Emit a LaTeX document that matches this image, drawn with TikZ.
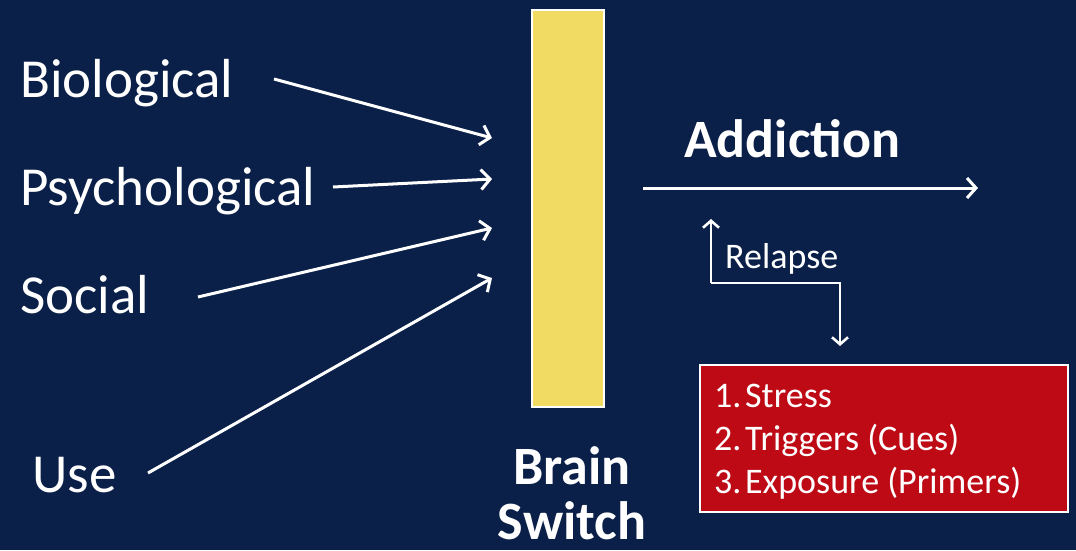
\documentclass[tikz,border=0pt]{standalone}
\usepackage{fontspec}
\setmainfont{Carlito}
\usetikzlibrary{arrows.meta}
\definecolor{bgnavy}{HTML}{0A2049}
\definecolor{switchyellow}{HTML}{F2DB62}
\definecolor{boxred}{HTML}{BD0A15}
\tikzset{
  lbl/.style={text=white, anchor=base west, inner sep=0pt, font=\fontsize{55}{60}\selectfont},
  bold/.style={text=white, anchor=base, inner sep=0pt, font=\fontsize{54}{60}\selectfont\bfseries},
  arr/.style={draw=white, line width=3pt, -{Straight Barb[length=9pt,width=20pt,line width=3pt]}},
  conn/.style={draw=white, line width=2.6pt},
}
\begin{document}
\begin{tikzpicture}[x=1pt,y=-1pt]
\fill[bgnavy] (0,0) rectangle (1076,550);
\useasboundingbox (0,0) rectangle (1076,550);
% switch bar
\node[draw=white, line width=1.8pt, fill=switchyellow, minimum width=72pt, minimum height=397pt, inner sep=0pt] (bar) at (568,208.5) {};
% inputs
\node[lbl] (bio) at (20,97) {Biological};
\node[lbl] (psy) at (20,205) {Psychological};
\node[lbl] (soc) at (20,313) {Social};
\node[lbl] (use) at (32,492) {Use};
\coordinate (bioS) at (274,79);
\coordinate (bioT) at (492,138);
\coordinate (psyS) at (333,187);
\coordinate (psyT) at (492,179);
\coordinate (socS) at (198,297);
\coordinate (socT) at (492,228);
\coordinate (useS) at (148,473);
\coordinate (useT) at (492,278);
\draw[arr] (bioS) -- (bioT);
\draw[arr] (psyS) -- (psyT);
\draw[arr] (socS) -- (socT);
\draw[arr] (useS) -- (useT);
% brain switch label
\node[bold] (brain) at (572,484) {Brain};
\node[bold] (switch) at (572,539) {Switch};
% addiction
\node[bold, anchor=base west] (add) at (684,157) {Addiction};
\coordinate (addS) at (643,188);
\coordinate (addT) at (978,188);
\draw[arr] (addS) -- (addT);
% relapse
\coordinate (relA) at (711,219);
\coordinate (relB) at (711,283);
\coordinate (relC) at (840,283);
\coordinate (relD) at (840,346);
\draw[conn, -{Straight Barb[length=7pt,width=16pt,line width=2.6pt]}] (relB) -- (relA);
\draw[conn, -{Straight Barb[length=7pt,width=16pt,line width=2.6pt]}] (relB) -- (relC) -- (relD);
\node[text=white, anchor=base west, inner sep=0pt, font=\fontsize{36}{40}\selectfont] (rel) at (725,268) {Relapse};
% red box
\node[draw=white, line width=1.8pt, fill=boxred, minimum width=368pt, minimum height=147pt, inner sep=0pt] (box) at (884,438.5) {};
\node[text=white, anchor=base west, inner sep=0pt, font=\fontsize{36}{40}\selectfont] (l1) at (714,407) {\makebox[31pt][l]{1.}Stress};
\node[text=white, anchor=base west, inner sep=0pt, font=\fontsize{36}{40}\selectfont] (l2) at (714,450) {\makebox[31pt][l]{2.}Triggers (Cues)};
\node[text=white, anchor=base west, inner sep=0pt, font=\fontsize{36}{40}\selectfont] (l3) at (714,493) {\makebox[31pt][l]{3.}Exposure (Primers)};
\end{tikzpicture}
\end{document}
